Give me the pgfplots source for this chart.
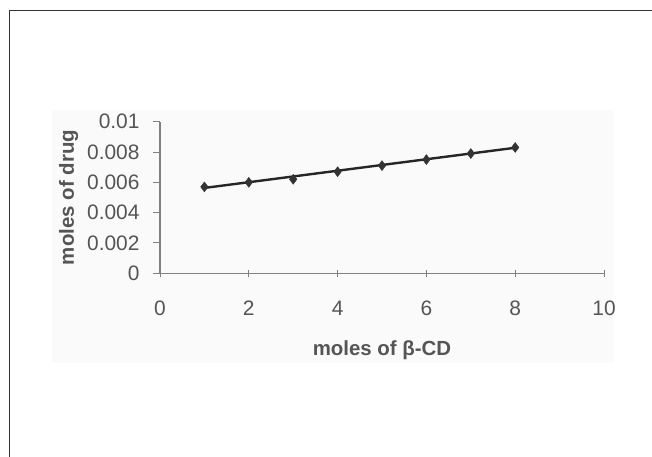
\documentclass[border=0pt]{standalone}
\usepackage{pgfplots}
\pgfplotsset{compat=1.18}
\usepackage{fontspec}
\setmainfont{Liberation Sans}
\definecolor{txt}{HTML}{555555}
\definecolor{axl}{HTML}{808080}
\begin{document}
\begin{tikzpicture}[x=1bp,y=1bp]
\path[use as bounding box] (0,0) rectangle (652,457);
\fill[black!2] (52,457-363) rectangle (613,457-110);
\draw[black!80, line width=0.8bp] (9.5,0) -- (9.5,447) -- (652,447);
\begin{axis}[
  at={(160bp,183.7bp)}, anchor=origin,
  scale only axis, width=444bp, height=151.6bp,
  xmin=0, xmax=10, ymin=0, ymax=0.01,
  axis lines=left, axis line style={axl, line width=1.1bp, -},
  xtick={0,2,...,10}, ytick={0,0.002,...,0.01},
  scaled y ticks=false,
  yticklabel style={/pgf/number format/fixed, /pgf/number format/precision=3},
  /pgf/number format/assume math mode=true,
  tick style={axl, line width=1bp},
  xtick align=center, ytick align=outside,
  major tick length=7bp,
  tick label style={font=\fontsize{21}{23}\selectfont, text=txt},
  xticklabel style={yshift=-21bp},
  yticklabel style={xshift=-10bp},
  xlabel={moles of β-CD}, ylabel={moles of drug},
  label style={font=\bfseries\fontsize{20.5}{22}\selectfont, text=txt},
  xlabel style={yshift=-18bp},
  ylabel style={yshift=2bp},
  clip=false,
]
\addplot[black!85, line width=2.4bp, no marks] coordinates {(1,0.00563) (8,0.00828)};
\addplot[only marks, mark=diamond*, mark size=5bp, black!80, mark options={fill=black!80}] coordinates {
 (1,0.0057) (2,0.0060) (3,0.0062) (4,0.0067) (5,0.0071) (6,0.0075) (7,0.0079) (8,0.0083)};
\end{axis}
\end{tikzpicture}
\end{document}
